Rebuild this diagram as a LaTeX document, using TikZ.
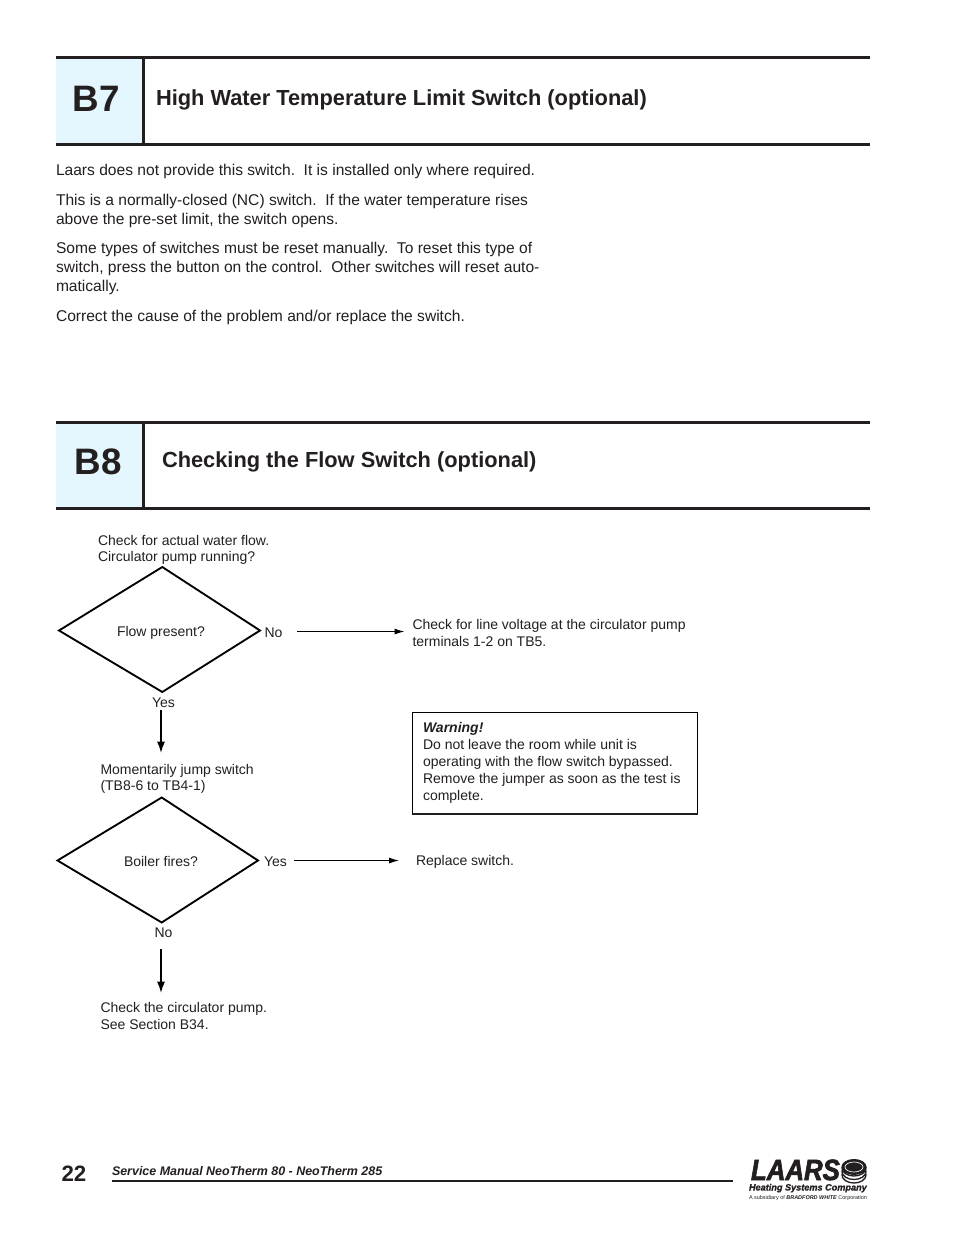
\documentclass[tikz,border=0pt]{standalone}
\usepackage{fontspec}
\setmainfont{Liberation Sans}
\newfontfamily\logofont[FakeBold=2.2,FakeStretch=0.88]{Liberation Sans}
\newfontfamily\logosub[FakeBold=1.2]{Liberation Sans}
\usetikzlibrary{arrows.meta,shapes.geometric}
\definecolor{ink}{HTML}{231F20}
\definecolor{pale}{HTML}{E4F6FE}
\tikzset{
 every node/.style={text=ink,inner sep=0pt,outer sep=0pt},
 rule/.style={draw=ink,line width=2.25pt},
 bodytext/.style={font=\fontsize{11.69pt}{14.2pt}\selectfont,anchor=north west,align=left},
 small/.style={font=\fontsize{10.5pt}{12.4pt}\selectfont,anchor=west,align=left},
 smallwide/.style={font=\fontsize{10.5pt}{12.75pt}\selectfont,anchor=west,align=left},
 boxtext/.style={font=\fontsize{10.5pt}{12.75pt}\selectfont,anchor=north west,align=left},
 head/.style={font=\bfseries\fontsize{16.36pt}{18pt}\selectfont,anchor=base west},
 code/.style={font=\bfseries\fontsize{27.6pt}{30pt}\selectfont,anchor=base west},
 arrow/.style={draw=black,line width=0.75pt,-{Latex[length=7.5pt,width=4.5pt]}},
 varrow/.style={draw=black,line width=1.15pt,-{Latex[length=8.5pt,width=6pt]}},
 dia/.style={draw=black,line width=1.4pt,line join=miter},
}
\begin{document}
\begin{tikzpicture}[x=0.75pt,y=-0.75pt]
\useasboundingbox (0,0) rectangle (954,1235);
\fill[white] (0,0) rectangle (954,1235);
% B7 header
\fill[pale] (56,58) rectangle (143,144);
\draw[rule] (56,57.5) -- (870,57.5);
\draw[rule] (56,144.5) -- (870,144.5);
\draw[rule] (143.5,57.5) -- (143.5,144.5);
\node[code] (b7) at (72.5,111) {B7};
\node[head] (b7t) at (156,105) {High Water Temperature Limit Switch (optional)};
\node[bodytext] (p1) at (56,164.5) {Laars does not provide this switch.\ \ It is installed only where required.};
\node[bodytext] (p2) at (56,194) {This is a normally-closed (NC) switch.\ \ If the water temperature rises\\above the pre-set limit, the switch opens.};
\node[bodytext] (p3) at (56,242.5) {Some types of switches must be reset manually.\ \ To reset this type of\\switch, press the button on the control.\ \ Other switches will reset auto-\\matically.};
\node[bodytext] (p4) at (56,310.5) {Correct the cause of the problem and/or replace the switch.};
% B8 header
\fill[pale] (56,423) rectangle (143,508);
\draw[rule] (56,422.5) -- (870,422.5);
\draw[rule] (56,508.5) -- (870,508.5);
\draw[rule] (143.5,422.5) -- (143.5,508.5);
\node[code] (b8) at (74.5,474) {B8};
\node[head] (b8t) at (162,467) {Checking the Flow Switch (optional)};
% flow
\node[small] (q1) at (98,550) {Check for actual water flow.\\Circulator pump running?};
\coordinate (d1t) at (162.3,567); \coordinate (d1r) at (260,630.5); \coordinate (d1b) at (162.3,692); \coordinate (d1l) at (59,630.5);
\draw[dia] (d1t) -- (d1r) -- (d1b) -- (d1l) -- cycle;
\node[small] (fp) at (117,632.5) {Flow present?};
\node[small] (no1) at (264.5,633) {No};
\node[smallwide] (chk) at (412.5,633) {Check for line voltage at the circulator pump\\terminals 1-2 on TB5.};
\node[small] (yes1) at (152,703) {Yes};
\node[small] (jump) at (100.5,779) {Momentarily jump switch\\(TB8-6 to TB4-1)};
\draw[arrow,shorten <=15pt*0.75,shorten >=8pt*0.75] ([yshift=1.1pt]no1.east) -- ([yshift=1.1pt]no1.east -| chk.west);
\coordinate (y1a) at (161,710); \coordinate (y1b) at (161,753);
\draw[varrow] (y1a) -- (y1b);
% warning
\node[draw=black,line width=0.75pt,minimum width=285pt*0.75,minimum height=101.5pt*0.75,anchor=north west] (wbox) at (412.5,712.5) {};
\draw[draw=ink,line width=1.4pt] (wbox.south west) -- (wbox.south east);
\node[boxtext] (warn) at (423,722) {\textbf{\textit{Warning!}}\\Do not leave the room while unit is\\operating with the flow switch bypassed.\\Remove the jumper as soon as the test is\\complete.};
% second diamond
\coordinate (d2t) at (161.7,797.5); \coordinate (d2r) at (258,860.5); \coordinate (d2b) at (161.7,922.5); \coordinate (d2l) at (57.5,860.5);
\draw[dia] (d2t) -- (d2r) -- (d2b) -- (d2l) -- cycle;
\node[small] (bf) at (124,861) {Boiler fires?};
\node[small] (yes2) at (264,862) {Yes};
\node[small] (rep) at (416,862) {Replace switch.};
\draw[arrow,shorten <=7pt*0.75,shorten >=17pt*0.75] ([yshift=1.1pt]yes2.east) -- ([yshift=1.1pt]yes2.east -| rep.west);
\node[small] (no2) at (154.5,933) {No};
\coordinate (n2a) at (161,949); \coordinate (n2b) at (161,993);
\draw[varrow] (n2a) -- (n2b);
\node[smallwide] (end) at (100.5,1016) {Check the circulator pump.\\See Section B34.};
% footer
\node[font=\bfseries\fontsize{16.7pt}{18pt}\selectfont,anchor=base west] (pg) at (61.5,1181) {22};
\node[font=\bfseries\itshape\fontsize{9.35pt}{10pt}\selectfont,anchor=base west] (man) at (112,1175) {Service Manual NeoTherm 80 - NeoTherm 285};
\draw[draw=ink,line width=1.5pt] (112,1181) -- (733,1181);
% logo
\node[font=\logofont\bfseries\itshape\fontsize{22pt}{23pt}\selectfont,anchor=base west] (laars) at (751,1180) {LAARS};
\foreach \yy in {1175,1171.5,1168}{\draw[ink,line width=1pt,fill=white] (854,\yy) ellipse (12pt*0.75 and 8pt*0.75);}
\fill[ink] (854,1167) ellipse (12.5pt*0.75 and 8pt*0.75);
\draw[white,line width=0.5pt] (854,1167) ellipse (9pt*0.75 and 5pt*0.75);
\node[font=\logosub\bfseries\itshape\fontsize{6.85pt}{7pt}\selectfont,anchor=base west] (hsc) at (749,1190.5) {Heating Systems Company};
\node[font=\fontsize{4.1pt}{4.5pt}\selectfont,anchor=base west] (sub) at (749,1199) {A subsidiary of \textbf{\textit{BRADFORD WHITE}} Corporation};
\end{tikzpicture}
\end{document}
